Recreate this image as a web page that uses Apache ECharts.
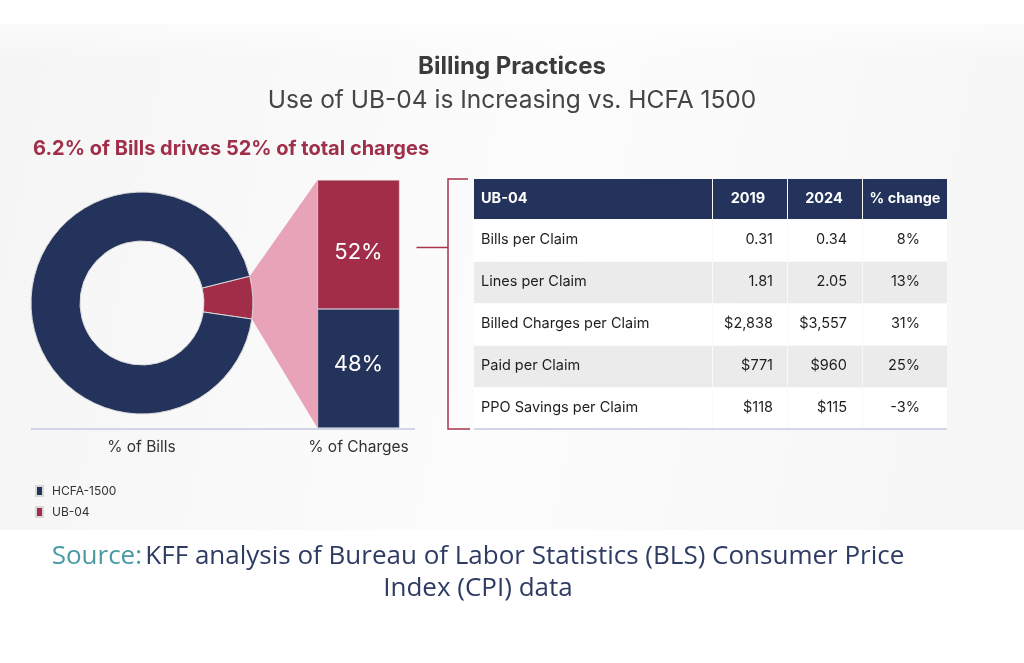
<!DOCTYPE html>
<html>
<head>
<meta charset="utf-8">
<script src="https://cdn.jsdelivr.net/npm/echarts@6/dist/echarts.min.js"></script>
<style>
  html, body { margin: 0; padding: 0; background: #fff; }
  #chart { width: 1024px; height: 663px; }
</style>
</head>
<body>
<div id="chart"></div>
<script>
// data
let billShare = [
  { name: 'UB-04', value: 6.2 },
  { name: 'HCFA-1500', value: 93.8 }
]
let axisCats = ['% of Bills', '% of Charges']
let chargesHcfa = ['-', 48]
let chargesUb = ['-', 52]

let tableHead = ['UB-04', '2019', '2024', '% change']
let tableRows = ['Bills per Claim', 'Lines per Claim', 'Billed Charges per Claim', 'Paid per Claim', 'PPO Savings per Claim']
let val2019 = ['0.31', '1.81', '$2,838', '$771', '$118']
let val2024 = ['0.34', '2.05', '$3,557', '$960', '$115']
let pctChange = ['8%', '13%', '31%', '25%', '-3%']

let navy = '#24335b'
let red = '#a12d48'
let pink = '#e8a3b8'
let font = 'Inter, "Noto Sans", sans-serif'

let chart = echarts.init(document.getElementById('chart'))

let pieCenter = [142, 303]
let pieRadius = [62, 111]
let pieStart = 14

chart.setOption({
  backgroundColor: '#fff',
  textStyle: { fontFamily: font },
  title: [
    {
      text: 'Billing Practices',
      left: 507, top: 50, textAlign: 'center',
      textStyle: { fontSize: 24, fontWeight: 'bold', color: '#3b3b3b', fontFamily: font }
    },
    {
      text: 'Use of UB-04 is Increasing vs. HCFA 1500',
      left: 507, top: 83, textAlign: 'center',
      textStyle: { fontSize: 24.5, fontWeight: 'normal', color: '#454545', fontFamily: font }
    },
    {
      text: '6.2% of Bills drives 52% of total charges',
      left: 28, top: 134,
      textStyle: { fontSize: 20, fontWeight: 'bold', color: '#a0304a', fontFamily: font }
    }
  ],
  legend: {
    orient: 'vertical',
    left: 30, top: 480,
    data: ['HCFA-1500', 'UB-04'],
    icon: 'rect',
    itemWidth: 7, itemHeight: 10, itemGap: 9,
    textStyle: { fontSize: 12, color: '#333', fontFamily: font, padding: [0, 0, 0, 4] }
  },
  grid: { left: 33, right: 557, top: 180, bottom: 235 },
  xAxis: {
    type: 'category',
    data: axisCats,
    axisLine: { show: false },
    axisTick: { show: false },
    axisLabel: { fontSize: 15.5, color: '#333', margin: 11, fontFamily: font }
  },
  yAxis: { type: 'value', min: 0, max: 100, show: false },
  series: [
    {
      name: 'Bills',
      type: 'pie',
      center: pieCenter,
      radius: pieRadius,
      startAngle: pieStart,
      clockwise: true,
      label: { show: false },
      labelLine: { show: false },
      itemStyle: { borderColor: '#d8d8d8', borderWidth: 1 },
      emphasis: { scale: false },
      data: billShare.map(d => ({ name: d.name, value: d.value, itemStyle: { color: d.name === 'UB-04' ? red : navy } })),
      z: 3
    },
    {
      name: 'HCFA-1500',
      type: 'bar',
      stack: 'c',
      barWidth: 82,
      data: chargesHcfa,
      itemStyle: { color: navy, borderColor: '#d8d8d8', borderWidth: 0.5 },
      label: { show: true, position: 'inside', offset: [0, -4], formatter: '{c}%', color: '#fff', fontSize: 22, fontFamily: font },
      z: 3
    },
    {
      name: 'UB-04',
      type: 'bar',
      stack: 'c',
      barWidth: 82,
      data: chargesUb,
      itemStyle: { color: red, borderColor: '#d8d8d8', borderWidth: 0.5 },
      label: { show: true, position: 'inside', offset: [0, 8], formatter: '{c}%', color: '#fff', fontSize: 22, fontFamily: font },
      z: 3
    }
  ]
})

// connector between the UB-04 slice and the charges bar
let R = pieRadius[1]
let a1 = pieStart * Math.PI / 180
let a2 = (pieStart - billShare[0].value * 3.6) * Math.PI / 180
let p1 = [pieCenter[0] + R * Math.cos(a1), pieCenter[1] - R * Math.sin(a1)]
let p2 = [pieCenter[0] + R * Math.cos(a2), pieCenter[1] - R * Math.sin(a2)]
let barTop = chart.convertToPixel({ xAxisIndex: 0, yAxisIndex: 0 }, [1, 100])
let barBot = chart.convertToPixel({ xAxisIndex: 0, yAxisIndex: 0 }, [1, 0])
let barL = barTop[0] - 41
let barR = barTop[0] + 41
let midUb = chart.convertToPixel({ xAxisIndex: 0, yAxisIndex: 0 }, [1, 48 + 52 / 2])

let g = []
// faint background band
g.push({
  type: 'rect', z: -10, silent: true,
  shape: { x: 0, y: 24, width: 1024, height: 506 },
  style: {
    fill: new echarts.graphic.LinearGradient(0, 0, 1, 0.4, [
      { offset: 0, color: '#f5f5f5' }, { offset: 0.55, color: '#fcfcfc' }, { offset: 1, color: '#f6f6f6' }
    ])
  }
})
g.push({
  type: 'rect', z: -9, silent: true,
  shape: { x: 0, y: 0, width: 1024, height: 60 },
  style: {
    fill: new echarts.graphic.LinearGradient(0, 0, 0, 1, [
      { offset: 0, color: '#ffffff' }, { offset: 1, color: 'rgba(255,255,255,0)' }
    ])
  }
})
g.push({
  type: 'polygon', z: 1, silent: true,
  shape: { points: [p1, [barL, barTop[1]], [barL, barBot[1]], p2] },
  style: { fill: pink }
})
// baseline
g.push({
  type: 'line', silent: true,
  shape: { x1: 31, y1: barBot[1] + 1, x2: 415, y2: barBot[1] + 1 },
  style: { stroke: '#c3c9de', lineWidth: 1.5 }
})

// table
let colX = [474, 712, 787, 862, 947]
let headTop = 179, headH = 40, rowH = 42
let cellFont = '14.5px ' + font
for (let c = 0; c < 4; c++) {
  g.push({
    type: 'rect', silent: true,
    shape: { x: colX[c] + (c ? 1 : 0), y: headTop, width: colX[c + 1] - colX[c] - (c ? 1 : 0), height: headH },
    style: { fill: navy }
  })
}
g.push({
  type: 'text', silent: true, x: 481, y: headTop + headH / 2,
  style: { text: tableHead[0], fill: '#fff', font: 'bold 14.5px ' + font, verticalAlign: 'middle' }
})
let headCenters = [748, 824, 905]
for (let c = 1; c < 4; c++) {
  g.push({
    type: 'text', silent: true, x: headCenters[c - 1], y: headTop + headH / 2,
    style: { text: tableHead[c], fill: '#fff', font: 'bold 14.5px ' + font, align: 'center', verticalAlign: 'middle' }
  })
}
let valRight = [773, 847, 920]
tableRows.forEach((name, i) => {
  let y = headTop + headH + i * rowH
  for (let c = 0; c < 4; c++) {
    g.push({
      type: 'rect', silent: true,
      shape: { x: colX[c] + (c ? 1 : 0), y: y + 1, width: colX[c + 1] - colX[c] - (c ? 1 : 0), height: rowH - 1 },
      style: { fill: i % 2 ? '#ebebeb' : '#ffffff' }
    })
  }
  g.push({
    type: 'text', silent: true, x: 481, y: y + rowH / 2,
    style: { text: name, fill: '#1e1e1e', font: cellFont, verticalAlign: 'middle' }
  })
  let vals = [val2019[i], val2024[i], pctChange[i]]
  vals.forEach((v, k) => {
    g.push({
      type: 'text', silent: true, x: valRight[k], y: y + rowH / 2,
      style: { text: v, fill: '#1e1e1e', font: cellFont, align: 'right', verticalAlign: 'middle' }
    })
  })
})
let tableBottom = headTop + headH + tableRows.length * rowH
g.push({
  type: 'line', silent: true,
  shape: { x1: 474, y1: tableBottom, x2: 947, y2: tableBottom },
  style: { stroke: '#c3c9de', lineWidth: 1.5 }
})

// bracket
g.push({
  type: 'polyline', silent: true,
  shape: { points: [[468, headTop], [448, headTop], [448, tableBottom], [470, tableBottom]] },
  style: { stroke: '#a8344e', lineWidth: 1.5, fill: null }
})
g.push({
  type: 'line', silent: true,
  shape: { x1: barR + 17, y1: midUb[1] + 3, x2: 448, y2: midUb[1] + 3 },
  style: { stroke: '#a8344e', lineWidth: 1.5 }
})

// source
g.push({
  type: 'text', silent: true, x: 478, y: 541,
  style: {
    text: '{a|Source:} {b|KFF analysis of Bureau of Labor Statistics (BLS) Consumer Price}\n{b|Index (CPI) data}',
    align: 'center',
    rich: {
      a: { fill: '#4a9aa6', fontSize: 26, fontFamily: '"Open Sans", sans-serif', lineHeight: 32 },
      b: { fill: '#2e3b63', fontSize: 26, fontFamily: '"Open Sans", sans-serif', lineHeight: 32 }
    }
  }
})

chart.setOption({ graphic: g })
</script>
</body>
</html>
